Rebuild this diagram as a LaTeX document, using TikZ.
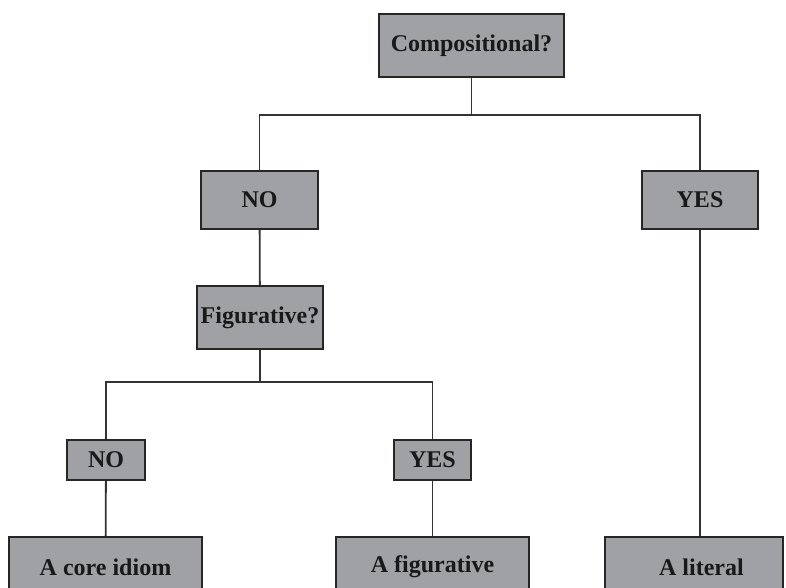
\documentclass[tikz,border=0pt]{standalone}
\usepackage{fontspec}
\setmainfont{Liberation Serif}
\begin{document}
\begin{tikzpicture}[x=1pt,y=-1pt,
  choice/.style={draw=black!85, line width=1.8pt, fill=boxgray, inner sep=0pt,
    font=\fontsize{24}{27}\selectfont\bfseries, text=black!90},
  link/.style={draw=black!80, line width=1.8pt}]
  \definecolor{boxgray}{RGB}{160,161,165}
  \clip (0,0) rectangle (786,588);
  \fill[white] (0,0) rectangle (786,588);

  % question and answer boxes
  \node[choice, minimum width=185pt, minimum height=63pt] (comp) at (471.5,45.5) {Compositional?};
  \node[choice, minimum width=117pt, minimum height=58pt] (no1) at (259.5,200) {NO};
  \node[choice, minimum width=116pt, minimum height=58pt] (yes1) at (700,200) {YES};
  \node[choice, minimum width=126pt, minimum height=63pt] (fig) at (260,317.5) {Figurative?};
  \node[choice, minimum width=78pt, minimum height=40pt] (no2) at (106,460) {NO};
  \node[choice, minimum width=77pt, minimum height=40pt] (yes2) at (432.5,460) {YES};
  \node[choice, minimum width=193pt, minimum height=60pt] (core) at (105.5,567) {A core idiom};
  \node[choice, minimum width=193pt, minimum height=60pt] (figv) at (432.5,567) {A figurative};
  \node[choice, minimum width=178pt, minimum height=60pt] (lit) at (694,567) {\hspace*{15pt}A literal};

  % branch points
  \coordinate (j1) at (471.5,115);
  \coordinate (j2) at (260,382);

  % connectors
  \draw[link] (comp) -- (j1);
  \draw[link] (j1) -| (no1);
  \draw[link] (j1) -| (yes1);
  \draw[link] (no1) -- (fig);
  \draw[link] (fig) -- (j2);
  \draw[link] (j2) -| (no2);
  \draw[link] (j2) -| (yes2);
  \draw[link] (no2) -- (core);
  \draw[link] (yes2) -- (figv);
  \draw[link] (yes1.south) -- (yes1.south |- lit.north);
\end{tikzpicture}
\end{document}
